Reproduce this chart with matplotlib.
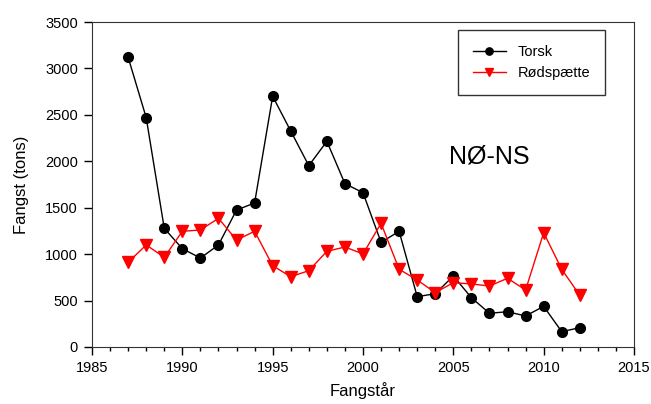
import numpy as np
import matplotlib.pyplot as plt
from matplotlib.ticker import MultipleLocator

plt.rcParams['font.family'] = ['Liberation Sans', 'DejaVu Sans']

years = list(range(1987, 2013))
torsk = [3120, 2470, 1278, 1059, 958, 1099, 1475, 1551, 2700, 2326,
         1953, 2215, 1759, 1662, 1127, 1246, 542, 574, 765, 531,
         363, 380, 334, 438, 165, 208]
rodspaette = [912, 1099, 966, 1246, 1260, 1386, 1152, 1246, 876, 757,
              822, 1030, 1077, 1002, 1332, 837, 722, 585, 693, 679,
              657, 740, 614, 1231, 837, 557]

fig = plt.figure(figsize=(6.51, 4.04), dpi=100)
ax = fig.add_axes([92 / 651, 57 / 404, 542 / 651, 325 / 404])

ax.plot(years, torsk, color='black', lw=1, marker='o', ms=7, label='Torsk')
ax.plot(years, rodspaette, color='red', lw=1, marker='v', ms=8, label='Rødspætte')

ax.set_xlim(1985, 2015)
ax.set_ylim(0, 3500)
ax.xaxis.set_major_locator(MultipleLocator(5))
ax.xaxis.set_minor_locator(MultipleLocator(1))
ax.yaxis.set_major_locator(MultipleLocator(500))
ax.tick_params(which='major', length=6, width=1, labelsize=10.5, direction='out', pad=4)
ax.tick_params(which='minor', length=3, width=1, direction='out')
for s in ax.spines.values():
    s.set_color('#333333')

ax.set_xlabel('Fangstår', fontsize=12, labelpad=5)
ax.set_ylabel('Fangst (tons)', fontsize=12, labelpad=12)

ax.text(2007.0, 2050, 'NØ-NS', fontsize=18, ha='center', va='center')

leg = ax.legend(loc='upper right', bbox_to_anchor=(0.9465, 0.975), fancybox=False,
                edgecolor='black', fontsize=10.5, handlelength=2.3, borderpad=1.0,
                labelspacing=0.5, borderaxespad=0, markerscale=0.75)
leg.get_frame().set_linewidth(1)

fig.savefig('out.png', dpi=100)
